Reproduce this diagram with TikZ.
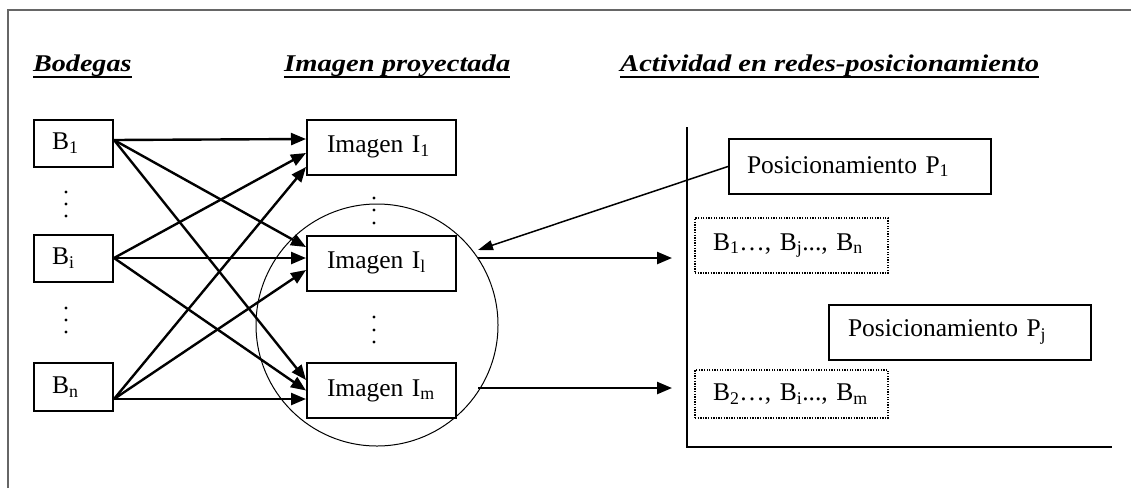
\documentclass[tikz,border=0pt]{standalone}
\usepackage{fontspec}
\usepackage{graphicx}
\setmainfont{Liberation Serif}
\usetikzlibrary{arrows.meta,calc}
\begin{document}
\begin{tikzpicture}[x=1pt,y=-1pt,
  txt/.style={font=\fontsize{25.5}{30}\selectfont},
  hdr/.style={font=\fontsize{24}{28}\selectfont\bfseries\itshape, inner sep=0pt, anchor=base west},
  uline/.style={line width=2.2pt},
  bbox/.style={txt, draw, line width=2pt, minimum height=47pt, text width=43pt, inner xsep=18pt, inner ysep=0pt, align=left},
  imgbox/.style={txt, draw, line width=2pt, minimum height=55pt, text width=109pt, inner xsep=20pt, inner ysep=0pt, align=left},
  posbox/.style={txt, draw, line width=2pt, minimum height=55pt, text width=226pt, inner xsep=18pt, inner ysep=0pt, align=left},
  dotbox/.style={txt, draw, line width=1.4pt, dash pattern=on 1.3pt off 1.3pt, text width=157pt, inner xsep=18pt, inner ysep=0pt, align=left},
  arr/.style={-{Triangle[length=15pt,width=12pt]}, line width=2.4pt},
  thinarr/.style={-{Triangle[length=15pt,width=10pt]}, line width=1.5pt},
  vdot/.style={fill=black, draw=none, circle, inner sep=0pt, minimum size=3.2pt},
  ring/.style={draw, circle, line width=1pt, minimum size=242pt, inner sep=0pt},
  frame/.style={draw=black!60, line width=1.8pt},
  axis/.style={line width=1.8pt}
]
\useasboundingbox (0,0) rectangle (1131,488);
% outer frame
\coordinate (f1) at (8,488);
\coordinate (f2) at (8,10);
\coordinate (f3) at (1131,10);
\draw[frame] (f1) -- (f2) -- (f3);

% headers
\node[hdr] (h1) at (33,71) {\scalebox{1.17}[1]{Bodegas}};
\node[hdr] (h2) at (284,71) {\scalebox{1.19}[1]{Imagen proyectada}};
\node[hdr] (h3) at (620,71) {\scalebox{1.19}[1]{Actividad en redes-posicionamiento}};
\foreach \h in {h1,h2,h3}{
  \draw[uline] ($(\h.base west)+(0,6)$) -- ($(\h.base east)+(0,6)$);
}

% circle
\node[ring] (C) at (377,325) {};

% bodegas
\node[bbox] (B1) at (73.5,143.5) {B\textsubscript{1}};
\node[bbox] (Bi) at (73.5,258.5) {B\textsubscript{i}};
\node[bbox, minimum height=48pt] (Bn) at (73.5,387) {B\textsubscript{n}};

% images
\node[imgbox] (I1) at (381.5,147) {Imagen I\textsubscript{1}};
\node[imgbox] (Il) at (381.5,263) {Imagen I\textsubscript{l}};
\node[imgbox] (Im) at (381.5,390.5) {Imagen I\textsubscript{m}};

% dots
\foreach \y in {192,204,216,308,320,332} \node[vdot] at (66,\y) {};
\foreach \y in {198,210,223,317,330,342} \node[vdot] at (374,\y) {};

% arrows bodegas -> images
\coordinate (s1) at ($(B1.east)+(0,-3.5)$);
\coordinate (si) at ($(Bi.east)+(0,-0.5)$);
\coordinate (sn) at ($(Bn.east)+(0,12)$);
\draw[arr] (s1) -- ($(I1.west)+(0,-8)$);
\draw[arr] (s1) -- ($(Il.west)+(0,-16)$);
\draw[arr] (s1) -- ($(Im.west)+(0,-10.5)$);
\draw[arr] (si) -- ($(I1.west)+(0,6)$);
\draw[arr] (si) -- ($(Il.west)+(0,-5)$);
\draw[arr] (si) -- ($(Im.west)+(0,0)$);
\draw[arr] (sn) -- ($(I1.west)+(0,20)$);
\draw[arr] (sn) -- ($(Il.west)+(0,7)$);
\draw[arr] (sn) -- ($(Im.west)+(0,8.5)$);

% axes
\coordinate (ax0) at (687,447);
\coordinate (axt) at (687,127);
\coordinate (axr) at (1112,447);
\draw[axis] (axt) -- (ax0) -- (axr);

% right boxes
\node[posbox] (P1) at (860,166.5) {Posicionamiento P\textsubscript{1}};
\node[dotbox, minimum height=55pt] (D1) at (791.5,245.5) {B\textsubscript{1}…, B\textsubscript{j}..., B\textsubscript{n}};
\node[posbox, inner xsep=19pt, text width=224pt] (Pj) at (960,332) {Posicionamiento P\textsubscript{j}};
\node[dotbox, minimum height=48pt] (D2) at (791.5,394) {B\textsubscript{2}…, B\textsubscript{i}..., B\textsubscript{m}};

% arrows to the right
\coordinate (e1) at (672,258);
\coordinate (e2) at (672,388);
\draw[arr] ($(Il.east)+(21,-5)$) -- (e1);
\draw[arr] ($(Im.east)+(21,-2.5)$) -- (e2);

% arrow from P1 to the circle
\coordinate (tp) at (478,250);
\draw[thinarr] (P1.west) -- (tp);
\end{tikzpicture}
\end{document}
